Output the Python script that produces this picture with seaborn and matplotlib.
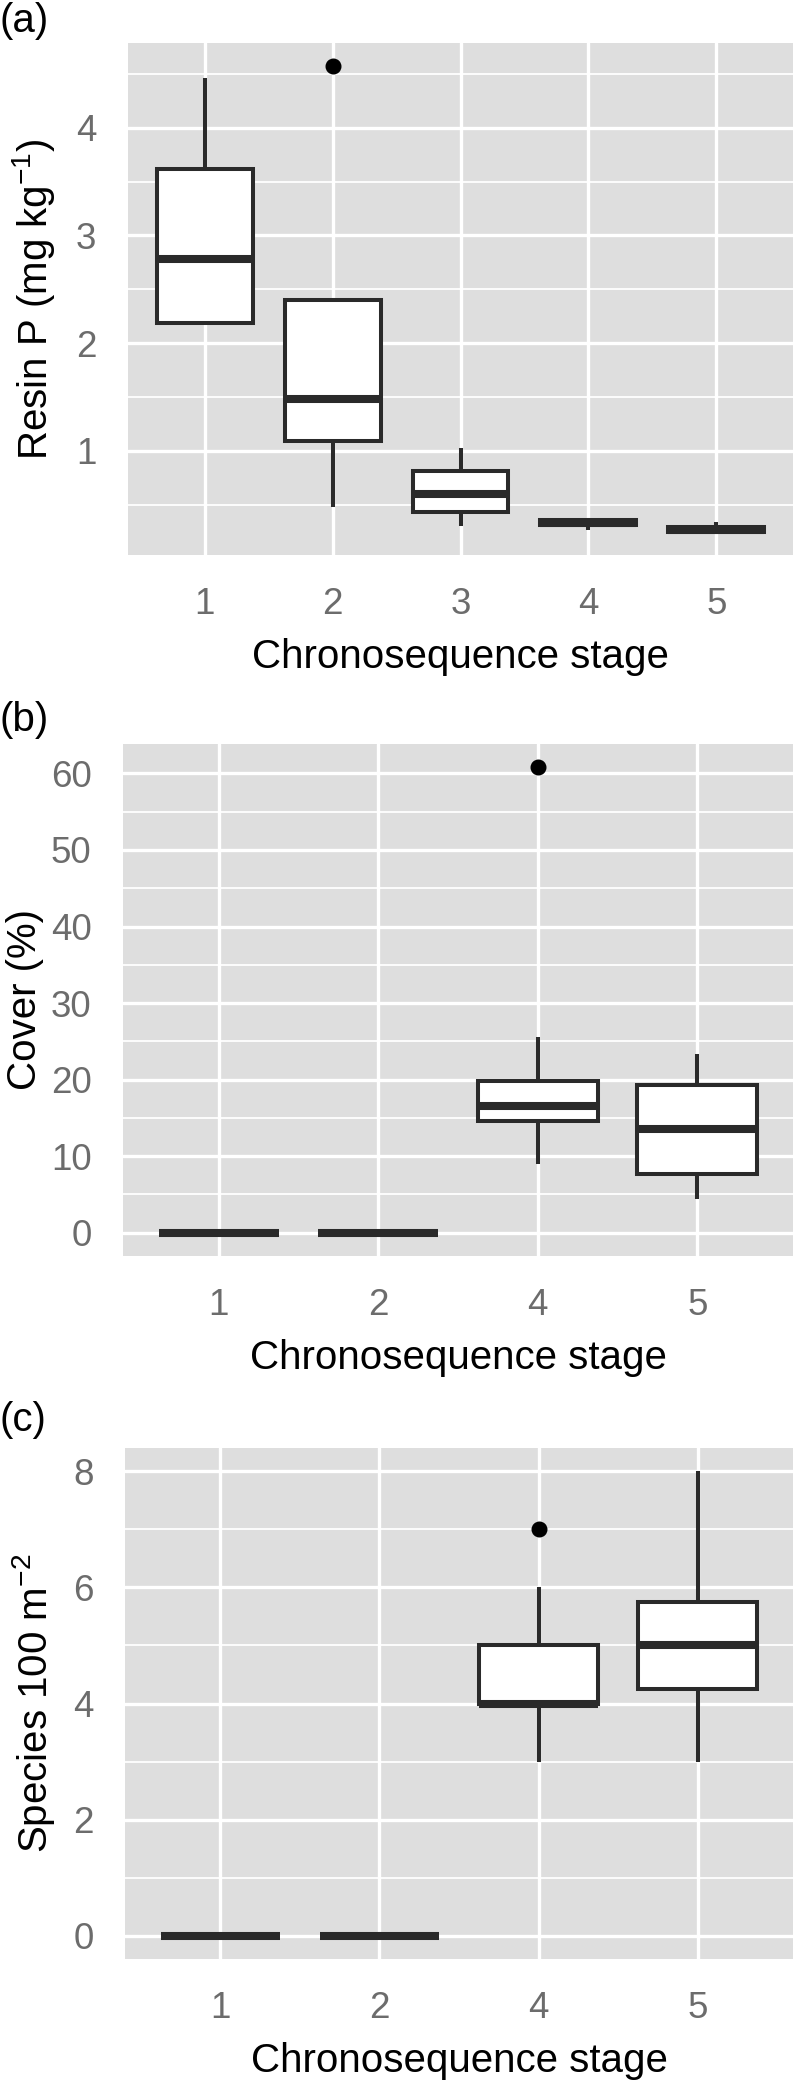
import numpy as np
import pandas as pd
import matplotlib
matplotlib.use("Agg")
import matplotlib.pyplot as plt
import seaborn as sns
from matplotlib.ticker import FixedLocator

# ---------------- data ----------------
# Panel (a): Resin P (mg kg-1)
resin_stages = ["1", "2", "3", "4", "5"]
resin_s1 = [2.19, 2.19, 2.78, 3.62, 4.46]
resin_s2 = [0.48, 0.85, 1.09, 1.30, 1.48, 1.95, 2.40, 2.40, 4.57]
resin_s3 = [0.30, 0.43, 0.60, 0.81, 1.03]
resin_s4 = [0.265, 0.31, 0.33, 0.355, 0.355]
resin_s5 = [0.25, 0.25, 0.27, 0.295, 0.34]
resin_yticks = [1, 2, 3, 4]
resin_yminor = [0.5, 1.5, 2.5, 3.5, 4.5]

# Panel (b): Cover (%)
cover_stages = ["1", "2", "4", "5"]
cover_s1 = [0, 0, 0, 0, 0]
cover_s2 = [0, 0, 0, 0, 0]
cover_s4 = [9.0, 12.0, 14.6, 15.5, 16.5, 18.0, 19.8, 25.6, 60.8]
cover_s5 = [4.4, 7.7, 13.5, 19.3, 23.4]
cover_yticks = [0, 10, 20, 30, 40, 50, 60]
cover_yminor = [5, 15, 25, 35, 45, 55]

# Panel (c): Species 100 m-2
species_stages = ["1", "2", "4", "5"]
species_s1 = [0, 0, 0, 0, 0]
species_s2 = [0, 0, 0, 0, 0]
species_s4 = [3, 4, 4, 4, 4, 5, 5, 6, 7]
species_s5 = [3, 4, 5, 5, 6, 8]
species_yticks = [0, 2, 4, 6, 8]
species_yminor = [1, 3, 5, 7]

panel_letters = ["(a)", "(b)", "(c)"]
y_titles = [r"Resin P (mg kg$^{-1}$)", "Cover (%)", r"Species 100 m$^{-2}$"]
x_title = "Chronosequence stage"


def long_df(stages, groups):
    rows = []
    for s, vals in zip(stages, groups):
        for v in vals:
            rows.append({"stage": s, "value": v})
    return pd.DataFrame(rows)


panels = [
    (long_df(resin_stages, [resin_s1, resin_s2, resin_s3, resin_s4, resin_s5]),
     resin_stages, resin_yticks, resin_yminor),
    (long_df(cover_stages, [cover_s1, cover_s2, cover_s4, cover_s5]),
     cover_stages, cover_yticks, cover_yminor),
    (long_df(species_stages, [species_s1, species_s2, species_s4, species_s5]),
     species_stages, species_yticks, species_yminor),
]

# ---------------- style ----------------
sns.set_style("white")
plt.rcParams["font.family"] = ["Liberation Sans", "DejaVu Sans"]
plt.rcParams["mathtext.fontset"] = "custom"
plt.rcParams["mathtext.rm"] = "Liberation Sans"
plt.rcParams["mathtext.it"] = "Liberation Sans:italic"
plt.rcParams["mathtext.bf"] = "Liberation Sans:bold"

BG = "#DEDEDE"
LINE = "#2a2a2a"
TICK = "#6c6c6c"

W, H = 796, 2081
fig = plt.figure(figsize=(W / 100, H / 100), dpi=100)

# pixel boxes: left, right, top, bottom
boxes = [(128, 793, 43, 555), (123, 793, 744, 1256), (125, 793, 1448, 1959)]
letter_baselines = [32, 731, 1431]
ylabel_baseline_x = [47, 36, 47]

for i, (df, stages, yt, ym) in enumerate(panels):
    l, r, t, b = boxes[i]
    ax = fig.add_axes([l / W, 1 - b / H, (r - l) / W, (b - t) / H])
    sns.boxplot(
        data=df, x="stage", y="value", order=stages, ax=ax,
        color="white", saturation=1, linecolor=LINE, linewidth=2.9,
        width=0.75, whis=1.5, showcaps=False,
        medianprops=dict(linewidth=5.8, solid_capstyle="butt", color=LINE),
        flierprops=dict(marker="o", markerfacecolor="black",
                        markeredgecolor="black", markersize=10.5,
                        markeredgewidth=1),
    )
    n = len(stages)
    ax.set_xlim(-0.6, n - 0.4)
    vals = df["value"].to_numpy()
    vmin, vmax = vals.min(), vals.max()
    pad = 0.05 * (vmax - vmin)
    ax.set_ylim(vmin - pad, vmax + pad)

    ax.set_facecolor(BG)
    for sp in ax.spines.values():
        sp.set_visible(False)
    ax.yaxis.set_major_locator(FixedLocator(yt))
    ax.yaxis.set_minor_locator(FixedLocator(ym))
    ax.set_yticklabels([str(v) for v in yt])
    ax.set_axisbelow(True)
    ax.grid(True, which="major", axis="both", color="white", linewidth=2.4)
    ax.grid(True, which="minor", axis="y", color="white", linewidth=1.3)
    ax.tick_params(which="major", length=14.4, width=2.6, color=TICK,
                   labelcolor=TICK, labelsize=26.5, pad=8.3)
    ax.tick_params(which="minor", length=0)

    ax.set_xlabel(x_title, fontsize=29, color="black", va="baseline")
    ax.xaxis.set_label_coords(0.5, -113 / (b - t))
    ax.set_ylabel(y_titles[i], fontsize=29, color="black", va="baseline")
    ax.yaxis.set_label_coords((ylabel_baseline_x[i] - l) / (r - l), 0.5)

    fig.text(0.0, 1 - letter_baselines[i] / H, panel_letters[i],
             fontsize=29, ha="left", va="baseline", color="black")

fig.savefig("out.png", dpi=100)
